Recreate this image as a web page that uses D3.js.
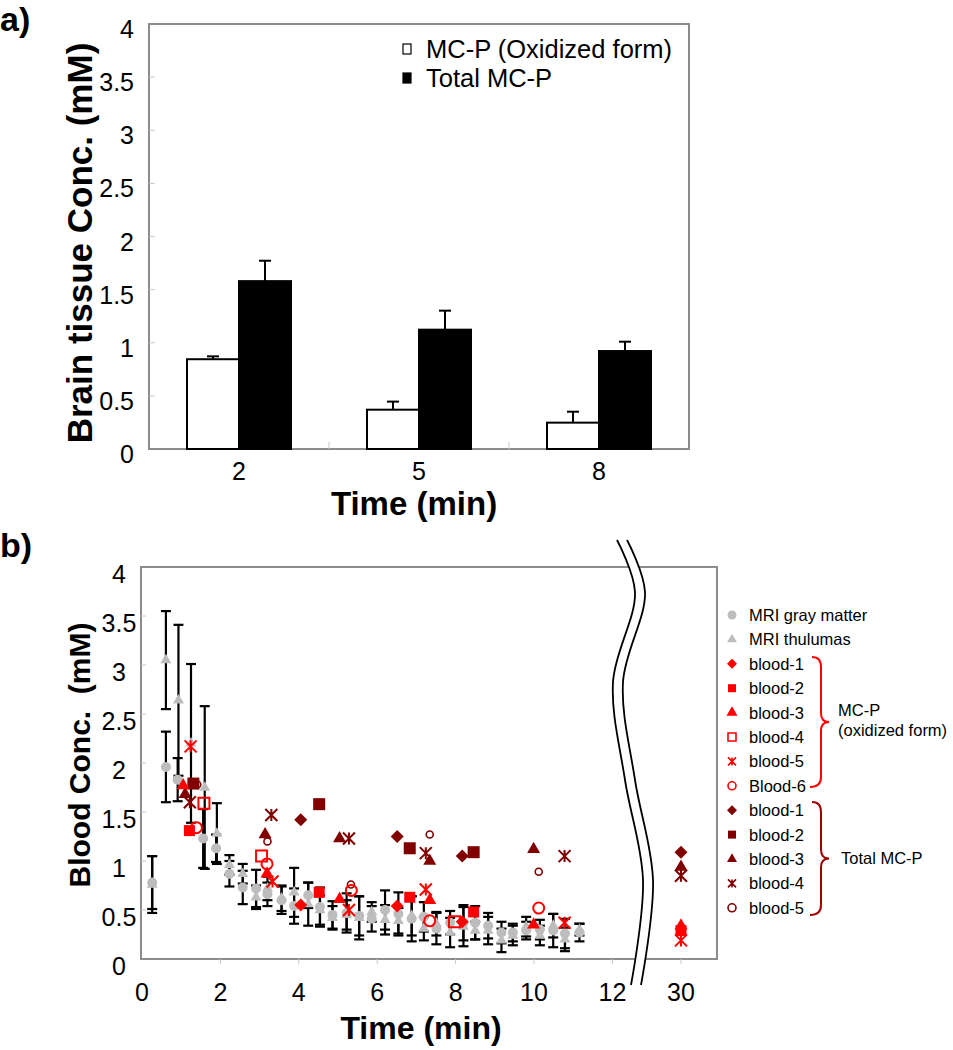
<!DOCTYPE html>
<html><head><meta charset="utf-8">
<script src="https://cdn.jsdelivr.net/npm/d3@7"></script>
<style>body{margin:0;background:#fff} svg{display:block} text{font-family:Arial,"Liberation Sans",sans-serif}</style>
</head><body><svg id="c" width="953" height="1050"></svg>
<script>
// ---------- Panel a data ----------
const brainTimes = ["2", "5", "8"];
const oxidizedMean = [0.845, 0.37, 0.248];
const oxidizedErr = [0.027, 0.076, 0.103];
const totalMean = [1.58, 1.123, 0.922];
const totalErr = [0.192, 0.179, 0.088];
const brainTicks = [0, 0.5, 1, 1.5, 2, 2.5, 3, 3.5, 4];
const brainLegend = ["MC-P (Oxidized form)", "Total MC-P"];

// ---------- Panel b data ----------
const timeTicks = [0, 2, 4, 6, 8, 10, 12, 30];
const bloodTicks = [0, 0.5, 1, 1.5, 2, 2.5, 3, 3.5, 4];
// [time, value, error]
const mriGray = [[0.26,0.78,0.27],[0.61,1.96,0.36],[0.91,1.83,0.22],[1.56,1.23,0.3],[1.89,1.13,0.14],[2.23,0.87,0.13],[2.57,0.73,0.17],[2.91,0.72,0.19],[3.2,0.66,0.12],[3.56,0.6,0.14],[3.88,0.54,0.18],[4.24,0.65,0.13],[4.54,0.53,0.2],[4.86,0.45,0.14],[5.22,0.47,0.2],[5.54,0.44,0.2],[5.86,0.41,0.13],[6.2,0.5,0.2],[6.54,0.46,0.22],[6.88,0.41,0.23],[7.19,0.43,0.15],[7.51,0.31,0.16],[7.86,0.37,0.12],[8.2,0.37,0.18],[8.5,0.37,0.17],[8.83,0.34,0.13],[9.17,0.27,0.11],[9.46,0.27,0.09],[9.8,0.29,0.09],[10.15,0.3,0.1],[10.49,0.29,0.17],[10.79,0.26,0.15],[11.16,0.27,0.09]];
const mriThal = [[0.26,0.76,0.29],[0.61,3.05,0.5],[0.93,2.64,0.77],[1.25,2.2,0.81],[1.6,1.75,0.83],[1.91,1.28,0.31],[2.23,0.96,0.1],[2.57,0.87,0.1],[2.91,0.63,0.12],[3.2,0.72,0.12],[3.56,0.62,0.13],[3.88,0.68,0.25],[4.24,0.56,0.22],[4.54,0.5,0.15],[4.86,0.42,0.12],[5.22,0.45,0.15],[5.54,0.42,0.22],[5.86,0.48,0.1],[6.2,0.4,0.15],[6.54,0.39,0.13],[6.88,0.44,0.2],[7.19,0.31,0.12],[7.51,0.36,0.12],[7.86,0.27,0.15],[8.2,0.33,0.2],[8.5,0.29,0.09],[8.83,0.29,0.14],[9.17,0.19,0.12],[9.46,0.24,0.1],[9.8,0.33,0.1],[10.15,0.24,0.1],[10.49,0.34,0.12],[10.79,0.2,0.12],[11.16,0.3,0.06]];
// MC-P (oxidized form) [time, value]
const oxBlood1 = [[4.05,0.55],[6.51,0.54],[8.17,0.38]];
const oxBlood2 = [[1.21,1.31],[4.52,0.68],[6.83,0.63],[8.46,0.48],[30,0.29]];
const oxBlood3 = [[1.05,1.77],[3.19,0.87],[5.04,0.61],[7.34,0.6],[9.99,0.35],[30,0.34]];
const oxBlood4 = [[1.58,1.59],[3.05,1.05],[7.97,0.38]];
const oxBlood5 = [[1.24,2.17],[3.33,0.79],[5.28,0.5],[7.24,0.71],[10.78,0.37],[30,0.19]];
const oxBlood6 = [[1.39,1.34],[3.19,0.97],[5.34,0.7],[7.34,0.39],[10.12,0.52]];
// Total MC-P [time, value]
const totBlood1 = [[4.05,1.42],[6.51,1.25],[8.17,1.05],[30,1.09]];
const totBlood2 = [[1.31,1.79],[4.52,1.58],[6.83,1.13],[8.46,1.09]];
const totBlood3 = [[1.1,1.68],[3.14,1.27],[5.04,1.23],[7.34,1.0],[9.99,1.12],[30,0.94]];
const totBlood4 = [[1.22,1.6],[3.3,1.47],[5.28,1.23],[7.24,1.08],[10.78,1.05],[30,0.85]];
const totBlood5 = [[1.41,1.78],[3.2,1.2],[5.33,0.76],[7.34,1.27],[10.12,0.89]];

const RED = "#ff0000", DRED = "#800000", GRAY = "#bdbdbd", FRAME = "#8c8c8c";

const svg = d3.select("#c");

// ================= Panel a =================
const A = {l:149, r:689, t:24, b:449};
const xa = d3.scaleBand().domain(brainTimes).range([A.l, A.r]);
const ya = d3.scaleLinear().domain([0,4]).range([A.b, A.t]);
const ga = svg.append("g");
ga.append("rect").attr("x",A.l).attr("y",A.t).attr("width",A.r-A.l).attr("height",A.b-A.t)
  .attr("fill","none").attr("stroke",FRAME).attr("stroke-width",2);
ga.selectAll(".yt").data(brainTicks.slice(1,-1)).join("line")
  .attr("x1",A.l).attr("x2",A.l+6).attr("y1",d=>ya(d)).attr("y2",d=>ya(d))
  .attr("stroke","#c8c8c8").attr("stroke-width",1);
ga.selectAll(".yl").data(brainTicks).join("text")
  .attr("x",134).attr("y",d=>ya(d)+14).attr("text-anchor","end")
  .attr("font-size",25).text(d=>d);
ga.selectAll(".xt").data(brainTimes.slice(1)).join("line")
  .attr("x1",d=>xa(d)).attr("x2",d=>xa(d)).attr("y1",A.b).attr("y2",A.b-7)
  .attr("stroke","#c8c8c8");
ga.selectAll(".xl").data(brainTimes).join("text")
  .attr("x",d=>xa(d)+xa.bandwidth()/2).attr("y",480).attr("text-anchor","middle")
  .attr("font-size",25).text(d=>d);
const bw = 52;
brainTimes.forEach((c,i)=>{
  const cx = xa(c)+xa.bandwidth()/2;
  [[cx-bw/2, oxidizedMean[i], oxidizedErr[i]],[cx+bw/2, totalMean[i], totalErr[i]]].forEach(([x,m,e])=>{
    ga.append("line").attr("x1",x).attr("x2",x).attr("y1",ya(m)).attr("y2",ya(m+e)).attr("stroke","#000").attr("stroke-width",2);
    ga.append("line").attr("x1",x-6).attr("x2",x+6).attr("y1",ya(m+e)).attr("y2",ya(m+e)).attr("stroke","#000").attr("stroke-width",2);
  });
  ga.append("rect").attr("x",cx-bw).attr("y",ya(oxidizedMean[i])).attr("width",bw).attr("height",ya(0)-ya(oxidizedMean[i]))
    .attr("fill","#fff").attr("stroke","#000").attr("stroke-width",2);
  ga.append("rect").attr("x",cx).attr("y",ya(totalMean[i])).attr("width",bw).attr("height",ya(0)-ya(totalMean[i]))
    .attr("fill","#000").attr("stroke","#000").attr("stroke-width",2);
});
brainLegend.forEach((t,i)=>{
  const y = 49 + i*29;
  ga.append("rect").attr("x",403).attr("y",y-5).attr("width",8).attr("height",10)
    .attr("fill", i? "#000":"#fff").attr("stroke","#000").attr("stroke-width",1.2);
  ga.append("text").attr("x",426).attr("y",y+9).attr("font-size",25.5).text(t);
});
ga.append("text").attr("transform","translate(92,243) rotate(-90)").attr("text-anchor","middle")
  .attr("font-size",35).attr("font-weight","bold").text("Brain tissue Conc. (mM)");
ga.append("text").attr("x",414).attr("y",515).attr("text-anchor","middle")
  .attr("font-size",33).attr("font-weight","bold").text("Time (min)");
svg.append("text").attr("x",0).attr("y",31).attr("font-size",34).attr("font-weight","bold").text("a)");

// ================= Panel b =================
const B = {l:141, r:717, t:567, b:959};
const xb = d3.scaleLinear().domain([0,12,30]).range([142, 612.4, 681]);
const yb = d3.scaleLinear().domain([0,4]).range([959, 567]);
const gb = svg.append("g");
gb.append("rect").attr("x",B.l).attr("y",B.t).attr("width",B.r-B.l).attr("height",B.b-B.t)
  .attr("fill","none").attr("stroke",FRAME).attr("stroke-width",2);
gb.selectAll(".yt").data(bloodTicks.slice(1,-1)).join("line")
  .attr("x1",B.l).attr("x2",B.l+5).attr("y1",d=>yb(d)).attr("y2",d=>yb(d)).attr("stroke","#c8c8c8");
gb.selectAll(".yl").data(bloodTicks).join("text")
  .attr("x",119).attr("y",d=>yb(d)+15.5).attr("text-anchor","middle").attr("font-size",25).text(d=>d);
gb.selectAll(".xt").data(timeTicks.slice(1)).join("line")
  .attr("x1",d=>xb(d)).attr("x2",d=>xb(d)).attr("y1",B.b).attr("y2",B.b+5).attr("stroke","#c8c8c8");
gb.selectAll(".xl").data(timeTicks).join("text")
  .attr("x",d=>xb(d)).attr("y",1001).attr("text-anchor","middle").attr("font-size",25).text(d=>d);

function sym(g, type, x, y, o){
  let p;
  const s = o.s;
  if(type==="diamond") p = d3.symbol(d3.symbolSquare, s*s/2)();
  else if(type==="square") p = d3.symbol(d3.symbolSquare, s*s)();
  else if(type==="triangle") p = d3.symbol(d3.symbolTriangle, s*s*0.433)();
  else if(type==="circle") p = d3.symbol(d3.symbolCircle, Math.PI*s*s/4)();
  else if(type==="star"){
    const h = s/2;
    p = `M${-h},${-h}L${h},${h}M${-h},${h}L${h},${-h}M0,${-h}L0,${h}`;
  }
  const el = g.append("path").attr("d",p)
    .attr("transform",`translate(${x},${y})${type==="diamond"?" rotate(45)":""}`);
  if(type==="star") el.attr("fill","none").attr("stroke",o.c).attr("stroke-width",o.sw||2);
  else if(o.open) el.attr("fill","none").attr("stroke",o.c).attr("stroke-width",o.sw||2);
  else el.attr("fill",o.c);
  return el;
}

const ge = gb.append("g");
[mriGray, mriThal].forEach(ser=>ser.forEach(([t,v,e])=>{
  const x = xb(t);
  ge.append("line").attr("x1",x).attr("x2",x).attr("y1",yb(v-e)).attr("y2",yb(v+e)).attr("stroke","#000").attr("stroke-width",2.2);
  [v-e, v+e].forEach(w=>ge.append("line").attr("x1",x-5).attr("x2",x+5).attr("y1",yb(w)).attr("y2",yb(w)).attr("stroke","#000").attr("stroke-width",2.2));
}));
const gm = gb.append("g");
mriGray.forEach(([t,v])=>sym(gm,"circle",xb(t),yb(v),{s:10,c:GRAY}));
mriThal.forEach(([t,v])=>sym(gm,"triangle",xb(t),yb(v),{s:11,c:GRAY}));

const series = [
  [totBlood1,"diamond",{s:13,c:DRED}],
  [totBlood2,"square",{s:12,c:DRED}],
  [totBlood3,"triangle",{s:13,c:DRED}],
  [totBlood4,"star",{s:12,c:DRED}],
  [totBlood5,"circle",{s:7,c:DRED,open:true,sw:1.6}],
  [oxBlood1,"diamond",{s:13,c:RED}],
  [oxBlood2,"square",{s:11,c:RED}],
  [oxBlood3,"triangle",{s:13,c:RED}],
  [oxBlood4,"square",{s:11,c:RED,open:true}],
  [oxBlood5,"star",{s:12,c:RED}],
  [oxBlood6,"circle",{s:11,c:RED,open:true}],
];
series.forEach(([data,type,o])=>data.forEach(([t,v])=>sym(gm,type,xb(t),yb(v),o)));

// axis break
const brk = [[622,540],[640,592],[618,682],[630,780],[648,880],[636,985]];
const bl = d3.line().curve(d3.curveCatmullRom);
gb.append("path").attr("d",bl(brk)).attr("fill","none").attr("stroke","#fff").attr("stroke-width",9);
[-5,5].forEach(dx=>gb.append("path").attr("d",bl(brk.map(([x,y])=>[x+dx,y])))
  .attr("fill","none").attr("stroke","#000").attr("stroke-width",1.8));

// legend b
const legItems = [
  ["MRI gray matter","circle",{s:9,c:GRAY}],
  ["MRI thulumas","triangle",{s:10,c:GRAY}],
  ["blood-1","diamond",{s:10,c:RED}],
  ["blood-2","square",{s:8,c:RED}],
  ["blood-3","triangle",{s:11,c:RED}],
  ["blood-4","square",{s:8,c:RED,open:true,sw:1.6}],
  ["blood-5","star",{s:8,c:RED,sw:1.6}],
  ["Blood-6","circle",{s:8,c:RED,open:true,sw:1.6}],
  ["blood-1","diamond",{s:10,c:DRED}],
  ["blood-2","square",{s:8,c:DRED}],
  ["blood-3","triangle",{s:10,c:DRED}],
  ["blood-4","star",{s:8,c:DRED,sw:1.6}],
  ["blood-5","circle",{s:8,c:DRED,open:true,sw:1.6}],
];
const gl = svg.append("g");
legItems.forEach(([t,type,o],i)=>{
  const y = 615 + i*24.4;
  sym(gl,type,732,y,o);
  gl.append("text").attr("x",749).attr("y",y+6).attr("font-size",16.5).text(t);
});
function brace(y0,y1){
  const ym=(y0+y1)/2, x0=812, x1=821, xt=829;
  return `M${x0},${y0} Q${x1},${y0} ${x1},${y0+10} L${x1},${ym-9} Q${x1},${ym} ${xt},${ym} Q${x1},${ym} ${x1},${ym+9} L${x1},${y1-10} Q${x1},${y1} ${x0-2},${y1}`;
}
gl.append("path").attr("d",brace(657,787)).attr("fill","none").attr("stroke",RED).attr("stroke-width",2);
gl.append("path").attr("d",brace(802,915)).attr("fill","none").attr("stroke","#a00000").attr("stroke-width",2);
gl.append("text").attr("x",838).attr("y",716).attr("font-size",16.5).text("MC-P");
gl.append("text").attr("x",838).attr("y",736).attr("font-size",16.5).text("(oxidized form)");
gl.append("text").attr("x",841).attr("y",864).attr("font-size",16.5).text("Total MC-P");

gb.append("text").attr("transform","translate(90,755) rotate(-90)").attr("text-anchor","middle")
  .attr("font-size",30).attr("font-weight","bold").style("white-space","pre").text("Blood Conc.  (mM)");
gb.append("text").attr("x",421).attr("y",1039).attr("text-anchor","middle")
  .attr("font-size",32).attr("font-weight","bold").text("Time (min)");
svg.append("text").attr("x",0).attr("y",557).attr("font-size",34).attr("font-weight","bold").text("b)");
</script></body></html>
